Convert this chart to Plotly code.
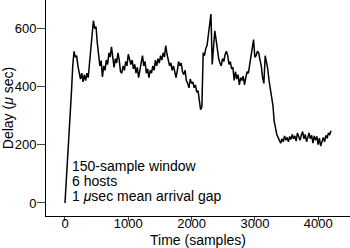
import plotly.graph_objects as go

delay = [
    0, 70, 150, 230, 305, 380, 470, 520, 500, 505,
    470, 450, 425, 445, 415, 440, 420, 445, 430, 480,
    530, 585, 625, 598, 605, 550, 500, 470, 488, 432,
    470, 455, 490, 475, 515, 500, 535, 490, 465, 495,
    480, 515, 490, 450, 445, 470, 455, 485, 470, 510,
    495, 475, 490, 460, 475, 445, 465, 430, 455, 480,
    505, 470, 485, 445, 460, 430, 455, 445, 470, 455,
    490, 470, 495, 480, 505, 490, 515, 500, 540, 510,
    485, 470, 480, 455, 470, 445, 430, 455, 485, 470,
    480, 450, 440, 455, 420, 410, 395, 425, 410, 415,
    395, 405, 380, 385, 355, 320, 330, 515, 505, 530,
    540, 575, 615, 648, 475, 545, 590, 560, 515, 495,
    480, 470, 495, 485, 510, 520, 505, 475, 485, 460,
    465, 420, 450, 425, 440, 405, 430, 420, 435, 405,
    430, 450, 445, 475, 505, 530, 560, 500, 505, 520,
    515, 490, 470, 430, 410, 505, 480, 460, 420, 390,
    370, 335, 280, 250, 235, 225, 215, 205, 220, 210,
    230, 215, 225, 210, 228, 218, 235, 220, 230, 212,
    240, 225, 215, 232, 245, 220, 235, 210, 225, 240,
    220, 232, 205, 230, 215, 228, 200, 222, 195, 215,
    225, 210, 232, 222, 240, 235, 248,
]
sample_step = 20.4
time = [i * sample_step for i in range(len(delay))]

x_ticks = [0, 1000, 2000, 3000, 4000]
y_ticks = [0, 200, 400, 600]
x_title = "Time (samples)"
y_title = "Delay (<i>\u03bc</i> sec)"
notes = ["150-sample window", "6 hosts", "1 <i>\u03bc</i>sec mean arrival gap"]

FONT = "Liberation Sans, Arial, Helvetica, sans-serif"

fig = go.Figure()
fig.add_trace(go.Scatter(x=time, y=delay, mode="lines",
                         line=dict(color="black", width=1.5),
                         showlegend=False, hoverinfo="skip"))

note_y = [0.230, 0.160, 0.0926]
for txt, yy in zip(notes, note_y):
    fig.add_annotation(text=txt, xref="paper", yref="paper", x=0.078, y=yy,
                       xanchor="left", yanchor="middle", showarrow=False,
                       font=dict(size=14, color="black", family=FONT))

# x-axis title placed explicitly below the tick labels
fig.add_annotation(text=x_title, xref="paper", yref="paper", x=0.5, y=-0.112,
                   xanchor="center", yanchor="middle", showarrow=False,
                   font=dict(size=14, color="black", family=FONT))

fig.update_layout(
    width=350, height=248,
    margin=dict(l=46, r=0, t=0, b=32),
    paper_bgcolor="white", plot_bgcolor="white",
    font=dict(family=FONT, size=13, color="black"),
    xaxis=dict(range=[-300, 4502], tickvals=x_ticks, ticks="outside", ticklen=4,
               ticklabelstandoff=-9,
               showline=True, linecolor="black", linewidth=1, showgrid=False,
               zeroline=False, tickfont=dict(size=13)),
    yaxis=dict(range=[-44.6, 696], tickvals=y_ticks, ticks="outside", ticklen=8,
               ticklabelstandoff=-2,
               showline=True, linecolor="black", linewidth=1, showgrid=False,
               zeroline=False, tickfont=dict(size=13),
               title=dict(text=y_title, font=dict(size=14), standoff=2)),
)

fig.write_html("out.html")
